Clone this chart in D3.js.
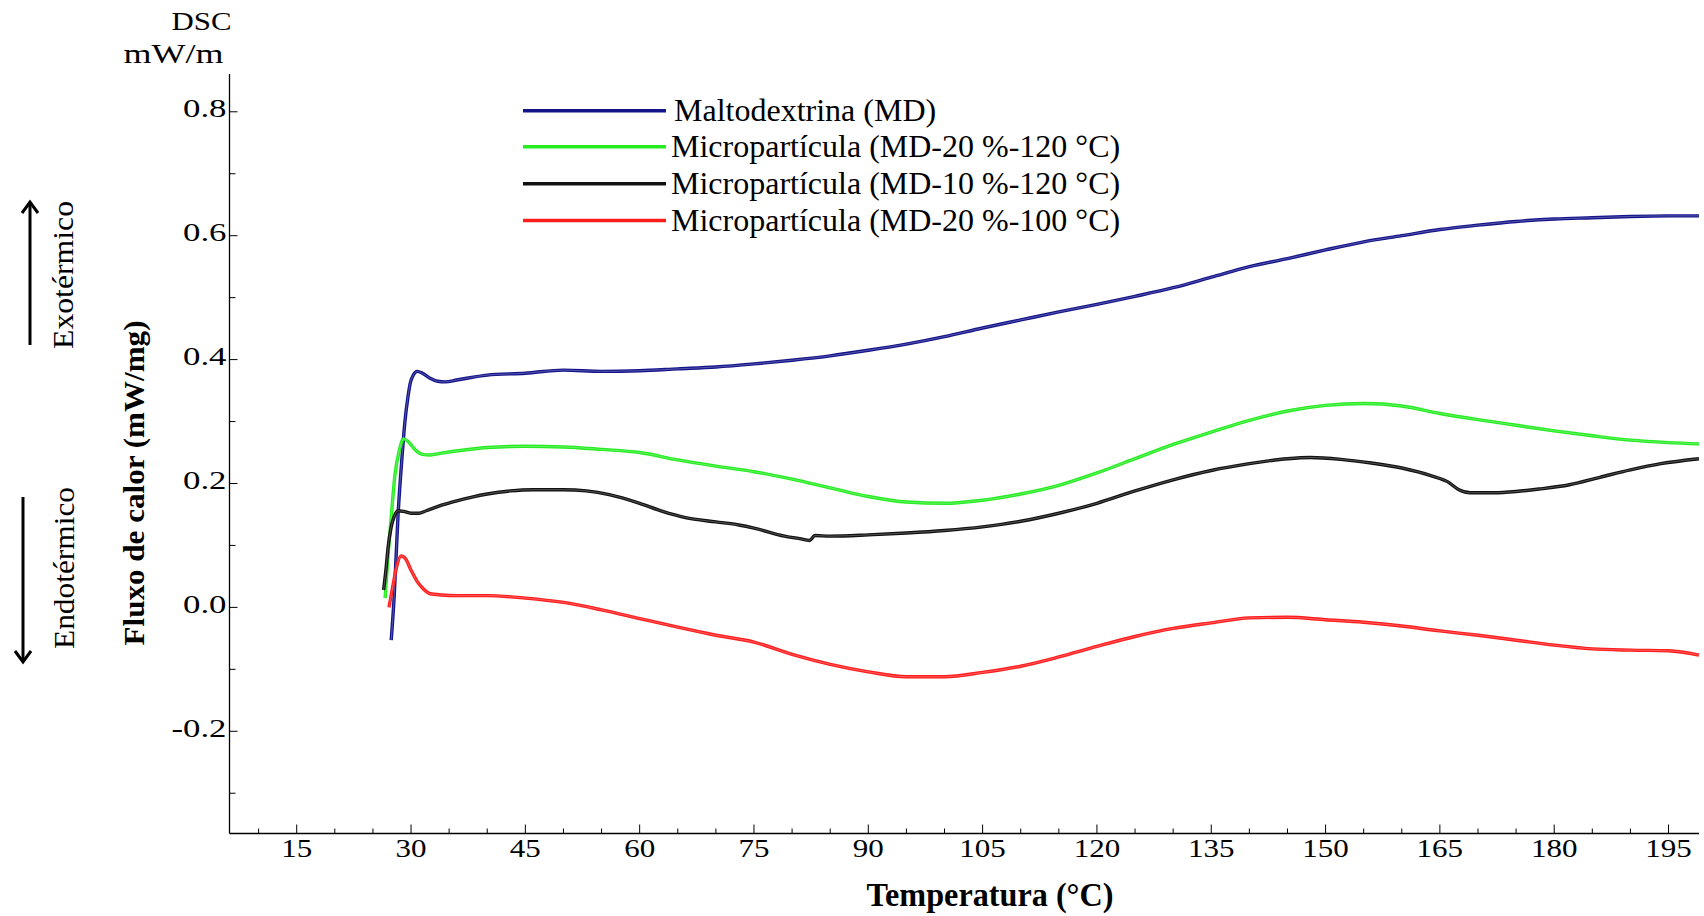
<!DOCTYPE html>
<html><head><meta charset="utf-8">
<script src="https://cdn.jsdelivr.net/npm/d3@7"></script>
<style>
html,body{margin:0;padding:0;background:#fff;}
svg{display:block;}
text{font-family:"Liberation Serif","Times New Roman",serif;fill:#000;}
</style></head>
<body>
<svg id="chart" width="1704" height="916"></svg>
<script>
// ---- data ----
const seriesNames = ["Maltodextrina (MD)", "Micropartícula (MD-20 %-120 °C)", "Micropartícula (MD-10 %-120 °C)", "Micropartícula (MD-20 %-100 °C)"];
const seriesColors = ["#14148a", "#26ec22", "#111111", "#ff1c1c"];

const mdT = [27.4,27.8,28.3,28.8,29.2,29.6,29.9,30.3,30.8,31.5,32.5,33.5,34.5,36,40,45,50,55,60,65,70,75,80,85,90,95,100,105,110,115,120,125,130,135,140,145,150,155,160,165,170,175,180,185,190,195,199];
const mdV = [-0.053,0.02,0.15,0.24,0.30,0.34,0.362,0.375,0.381,0.378,0.37,0.365,0.364,0.367,0.375,0.378,0.383,0.381,0.382,0.385,0.388,0.393,0.399,0.406,0.415,0.425,0.437,0.451,0.464,0.477,0.489,0.502,0.516,0.533,0.55,0.563,0.577,0.59,0.6,0.61,0.617,0.623,0.627,0.629,0.631,0.632,0.632];

const g20T = [26.6,26.9,27.3,27.9,28.5,29.0,29.6,30.5,31.5,32.5,34,37,40,45,50,55,60,65,70,75,80,85,90,95,100,105,110,115,120,125,130,135,140,145,150,155,160,165,170,175,180,185,190,195,199];
const g20V = [0.015,0.07,0.13,0.215,0.255,0.272,0.268,0.255,0.247,0.246,0.249,0.254,0.258,0.26,0.259,0.255,0.25,0.238,0.228,0.219,0.207,0.193,0.179,0.17,0.168,0.173,0.183,0.197,0.217,0.24,0.263,0.283,0.302,0.317,0.326,0.329,0.325,0.313,0.303,0.294,0.285,0.277,0.27,0.266,0.264];

const b10T = [26.4,26.7,27.0,27.4,27.8,28.3,29,30,31,32,34,36,38,40,43,46,50,53,56,60,63,66,70,73,75,79,81,82.3,83,85,90,95,100,105,110,115,120,125,130,135,140,145,148,152,156,160,164,166,167.5,169,172,175,178,182,186,190,194,199];
const b10V = [0.028,0.06,0.098,0.13,0.147,0.156,0.155,0.152,0.152,0.156,0.165,0.172,0.178,0.183,0.188,0.19,0.19,0.188,0.182,0.168,0.155,0.145,0.138,0.133,0.128,0.115,0.111,0.108,0.116,0.115,0.117,0.12,0.124,0.13,0.139,0.152,0.168,0.188,0.206,0.221,0.232,0.24,0.242,0.239,0.233,0.225,0.212,0.203,0.19,0.185,0.185,0.187,0.191,0.198,0.21,0.222,0.232,0.24];

const r100T = [27.1,27.4,27.7,28.1,28.7,29.3,30,30.8,31.6,32.5,34,36,40,45,50,55,60,65,70,75,80,85,90,95,100,105,110,115,120,125,130,135,140,145,150,155,160,165,170,175,180,185,190,195,199];
const r100V = [0.0,0.02,0.04,0.065,0.083,0.078,0.06,0.042,0.03,0.022,0.02,0.019,0.019,0.015,0.008,-0.004,-0.018,-0.032,-0.045,-0.056,-0.076,-0.092,-0.104,-0.112,-0.112,-0.105,-0.095,-0.08,-0.063,-0.047,-0.034,-0.025,-0.017,-0.016,-0.02,-0.024,-0.03,-0.038,-0.045,-0.053,-0.061,-0.067,-0.069,-0.07,-0.077];

const xTickValues = d3.range(10, 196, 5);
const xMajorTicks = [15,30,45,60,75,90,105,120,135,150,165,180,195];
const yTickValues = [-0.3,-0.2,-0.1,0.0,0.1,0.2,0.3,0.4,0.5,0.6,0.7,0.8];
const yMajorTicks = [-0.2,0.0,0.2,0.4,0.6,0.8];
const yTickLabels = ["-0.2","0.0","0.2","0.4","0.6","0.8"];

const series = [
  {name: seriesNames[0], color: seriesColors[0], T: mdT, V: mdV},
  {name: seriesNames[1], color: seriesColors[1], T: g20T, V: g20V},
  {name: seriesNames[2], color: seriesColors[2], T: b10T, V: b10V},
  {name: seriesNames[3], color: seriesColors[3], T: r100T, V: r100V}
];

// ---- layout ----
const svg = d3.select("#chart");
const x = d3.scaleLinear().domain([6.18, 199]).range([229.5, 1699]);
const y = d3.scaleLinear().domain([-0.365, 0.861]).range([833.5, 74]);

const isMajorX = v => xMajorTicks.some(m => Math.abs(m - v) < 1e-6);
const isMajorY = v => yMajorTicks.some(m => Math.abs(m - v) < 1e-6);

// X axis (ticks pointing up/inside)
const xg = svg.append("g").attr("transform", `translate(0,${y.range()[0]})`);
xg.append("line").attr("x1", x.range()[0]).attr("x2", x.range()[1]).attr("y1",0).attr("y2",0)
  .attr("stroke","#000").attr("stroke-width",1.3);
xg.selectAll("line.tk").data(xTickValues).enter().append("line").attr("class","tk")
  .attr("x1", d=>x(d)).attr("x2", d=>x(d)).attr("y1",0).attr("y2", d=> isMajorX(d) ? -9 : -5)
  .attr("stroke","#000").attr("stroke-width",1);
xg.selectAll("text").data(xMajorTicks).enter().append("text")
  .attr("x", d=>x(d)).attr("y", 23).attr("text-anchor","middle")
  .attr("font-size", 26)
  .attr("textLength", d => String(d).length * 15.5).attr("lengthAdjust","spacingAndGlyphs")
  .text(d=>d);

// Y axis (ticks pointing right/inside)
const yg = svg.append("g").attr("transform", `translate(${x.range()[0]},0)`);
yg.append("line").attr("x1",0).attr("x2",0).attr("y1", y.range()[1]).attr("y2", y.range()[0])
  .attr("stroke","#000").attr("stroke-width",1.3);
yg.selectAll("line.tk").data(yTickValues).enter().append("line").attr("class","tk")
  .attr("x1",0).attr("x2", d => isMajorY(d) ? 8 : 6).attr("y1", d=>y(d)).attr("y2", d=>y(d))
  .attr("stroke","#000").attr("stroke-width",1);
yg.selectAll("text").data(yMajorTicks).enter().append("text")
  .attr("x", -3).attr("y", d=>y(d) + 5.5).attr("text-anchor","end")
  .attr("font-size", 26)
  .attr("textLength", d => d < 0 ? 55 : 43.5).attr("lengthAdjust","spacingAndGlyphs")
  .text((d,i) => yTickLabels[i]);

// top-left unit labels
svg.append("text").attr("x", 231.5).attr("y", 30).attr("text-anchor","end")
  .attr("font-size", 25).attr("textLength", 60).attr("lengthAdjust","spacingAndGlyphs").text("DSC");
svg.append("text").attr("x", 223.5).attr("y", 63).attr("text-anchor","end")
  .attr("font-size", 27).attr("textLength", 100).attr("lengthAdjust","spacingAndGlyphs").text("mW/m");

// axis titles
svg.append("text").attr("x", 990).attr("y", 906).attr("text-anchor","middle")
  .attr("font-size", 34).attr("font-weight","bold")
  .attr("textLength", 247).attr("lengthAdjust","spacingAndGlyphs")
  .text("Temperatura (°C)");
svg.append("text").attr("transform","translate(133,483) rotate(-90)")
  .attr("text-anchor","middle").attr("dominant-baseline","central")
  .attr("font-size", 30).attr("font-weight","bold")
  .attr("textLength", 325).attr("lengthAdjust","spacingAndGlyphs")
  .text("Fluxo de calor (mW/mg)");

// Exo / Endo labels
svg.append("text").attr("transform","translate(63,275) rotate(-90)")
  .attr("text-anchor","middle").attr("dominant-baseline","central")
  .attr("font-size", 29).attr("textLength",148).attr("lengthAdjust","spacingAndGlyphs")
  .text("Exotérmico");
svg.append("text").attr("transform","translate(64,568) rotate(-90)")
  .attr("text-anchor","middle").attr("dominant-baseline","central")
  .attr("font-size", 29).attr("textLength",162).attr("lengthAdjust","spacingAndGlyphs")
  .text("Endotérmico");

// arrows
function arrow(xp, y1, y2){ // from y1 to y2, head at y2
  const dir = y2 < y1 ? 1 : -1;
  const g = svg.append("g").attr("stroke","#000").attr("stroke-width",3).attr("fill","none").attr("stroke-linecap","butt");
  g.append("line").attr("x1",xp).attr("x2",xp).attr("y1",y1).attr("y2",y2 + dir*1);
  g.append("path").attr("d", `M${xp-8},${y2+dir*11} L${xp},${y2} L${xp+8},${y2+dir*11}`);
}
arrow(30, 345, 202);
arrow(23, 497, 662);

// curves
const line = d3.line().x(d=>x(d[0])).y(d=>y(d[1])).curve(d3.curveMonotoneX);
const plot = svg.append("g");
series.forEach(s => {
  const pts = s.T.map((t,i)=>[t, s.V[i]]);
  plot.append("path").attr("d", line(pts)).attr("fill","none")
    .attr("stroke", s.color).attr("stroke-width", 3.4).attr("stroke-linejoin","round");
  plot.append("path").attr("d", line(pts)).attr("fill","none")
    .attr("stroke", "#fff").attr("stroke-opacity",0.35).attr("stroke-width", 0.8);
});

// legend
const legendY = [110.8, 146.7, 183.7, 220.6];
const lg = svg.append("g");
series.forEach((s,i) => {
  lg.append("line").attr("x1",523).attr("x2",666).attr("y1",legendY[i]).attr("y2",legendY[i])
    .attr("stroke", s.color).attr("stroke-width",3.5);
  lg.append("text").attr("x", i===0 ? 674 : 671).attr("y", legendY[i] + 10)
    .attr("font-size", 32).text(s.name);
});
</script>
</body></html>
